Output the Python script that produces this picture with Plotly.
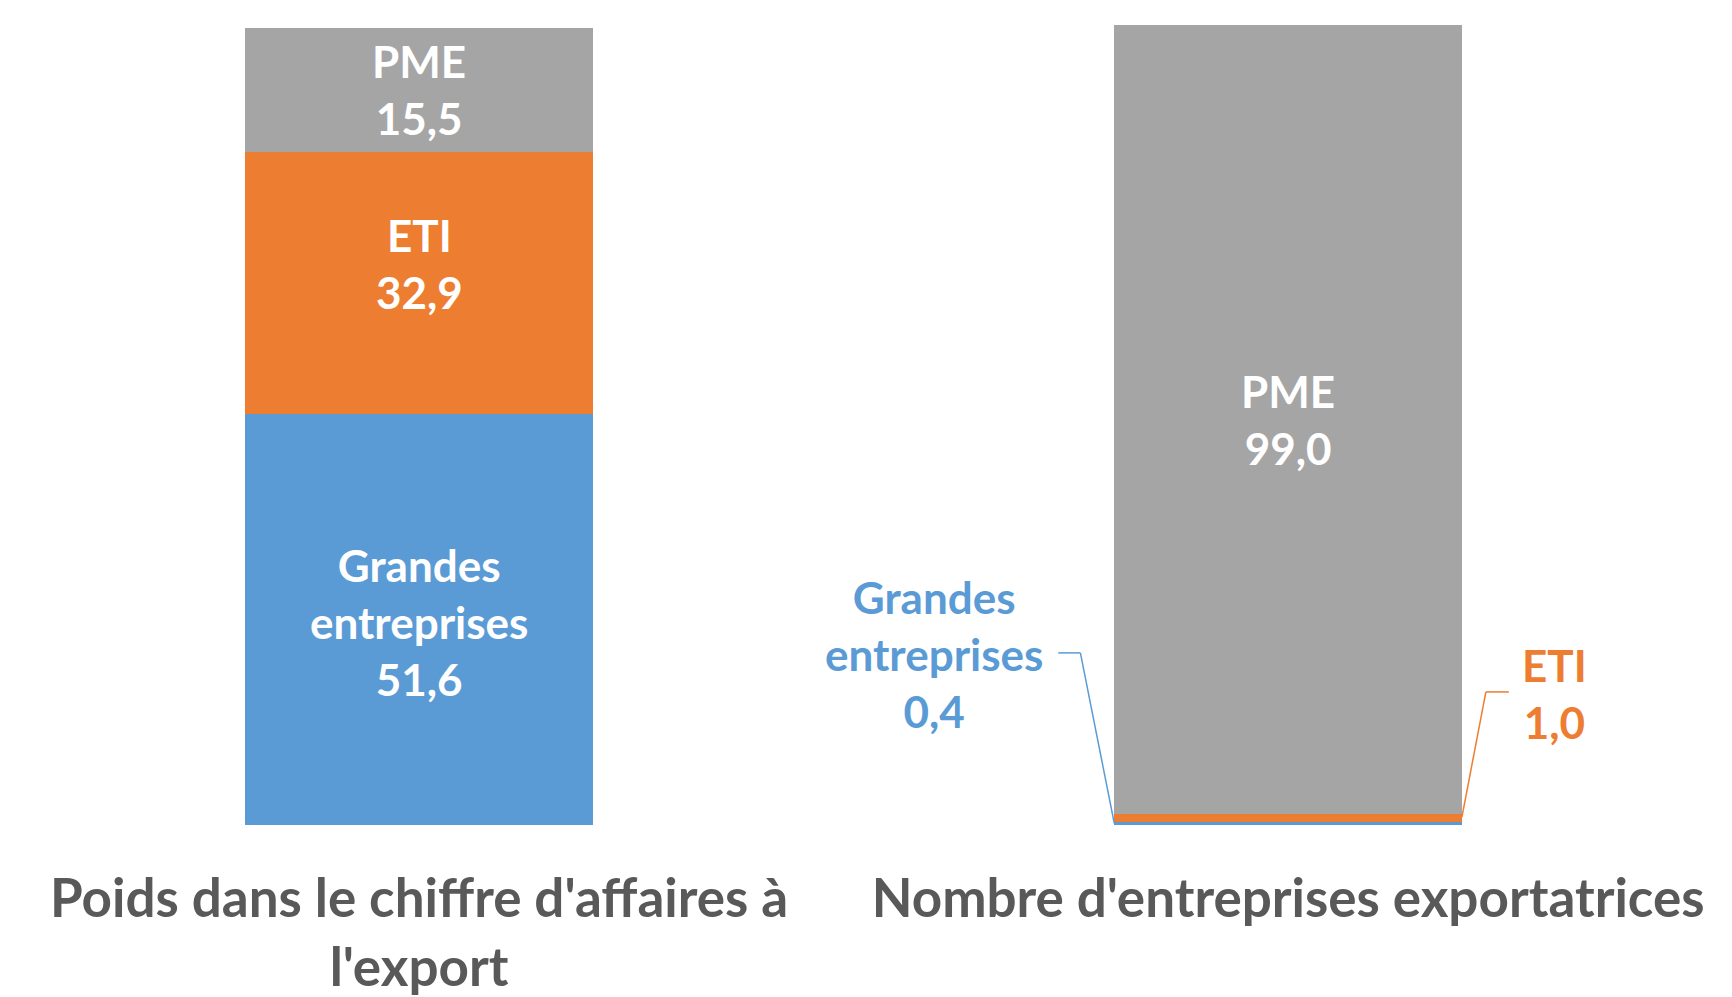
import plotly.graph_objects as go

# ---- data ----
categories = ["Poids dans le chiffre d'affaires à<br>l'export", "Nombre d'entreprises exportatrices"]
series_names = ["Grandes<br>entreprises", "ETI", "PME"]
ge_values = [51.6, 0.4]
eti_values = [32.9, 1.0]
pme_values = [15.5, 99.0]

colors = {"ge": "#5B9BD5", "eti": "#ED7D31", "pme": "#A5A5A5"}
xpos = [0, 1]
bar_w = 0.4


def fmt(v):
    return f"{v:.1f}".replace(".", ",")


fig = go.Figure()
for name, vals, key in [(series_names[0], ge_values, "ge"),
                        (series_names[1], eti_values, "eti"),
                        (series_names[2], pme_values, "pme")]:
    fig.add_trace(go.Bar(x=xpos, y=vals, width=bar_w, name=name.replace("<br>", " "),
                         marker=dict(color=colors[key], line=dict(width=0)),
                         hoverinfo="skip", showlegend=False))

lab_font = dict(family="Lato", size=44, weight="bold")
annots = []
# left bar: inside labels
bases = [0, ge_values[0], ge_values[0] + eti_values[0]]
vals_left = [ge_values[0], eti_values[0], pme_values[0]]
yshifts = [-3, 19, 0]
for nm, b, v, ys in zip(series_names, bases, vals_left, yshifts):
    annots.append(dict(x=xpos[0], y=b + v / 2, xref="x", yref="y",
                       text=f"{nm}<br>{fmt(v)}", showarrow=False, yshift=ys,
                       font=dict(lab_font, color="white"), xanchor="center", yanchor="middle"))
# right bar: PME inside
b_pme = ge_values[1] + eti_values[1]
annots.append(dict(x=xpos[1], y=b_pme + pme_values[1] / 2, xref="x", yref="y",
                   text=f"{series_names[2]}<br>{fmt(pme_values[1])}", showarrow=False,
                   font=dict(lab_font, color="white"), xanchor="center", yanchor="middle"))

# right bar: outside labels with leader lines
ge_lab = (xpos[1] - 0.408, 21.4)
eti_lab = (xpos[1] + 0.307, 16.5)
annots.append(dict(x=ge_lab[0], y=ge_lab[1], xref="x", yref="y",
                   text=f"{series_names[0]}<br>{fmt(ge_values[1])}", showarrow=False,
                   font=dict(lab_font, color=colors["ge"]), xanchor="center", yanchor="middle"))
annots.append(dict(x=eti_lab[0], y=eti_lab[1], xref="x", yref="y",
                   text=f"{series_names[1]}<br>{fmt(eti_values[1])}", showarrow=False,
                   font=dict(lab_font, color=colors["eti"]), xanchor="center", yanchor="middle"))

left_edge = xpos[1] - bar_w / 2
right_edge = xpos[1] + bar_w / 2
shapes = [
    dict(type="line", xref="x", yref="y", x0=left_edge - 0.0645, y0=21.6, x1=left_edge - 0.039, y1=21.6,
         line=dict(color=colors["ge"], width=1.5)),
    dict(type="line", xref="x", yref="y", x0=left_edge - 0.039, y0=21.6, x1=left_edge, y1=ge_values[1] / 2,
         line=dict(color=colors["ge"], width=1.5)),
    dict(type="line", xref="x", yref="y", x0=right_edge, y0=ge_values[1] + eti_values[1] * 0.6,
         x1=right_edge + 0.0276, y1=16.7, line=dict(color=colors["eti"], width=1.5)),
    dict(type="line", xref="x", yref="y", x0=right_edge + 0.0276, y0=16.7, x1=right_edge + 0.054, y1=16.7,
         line=dict(color=colors["eti"], width=1.5)),
]

fig.update_layout(
    barmode="stack",
    width=1732, height=997,
    margin=dict(l=0, r=0, t=17, b=180),
    paper_bgcolor="white", plot_bgcolor="white",
    annotations=annots, shapes=shapes,
    xaxis=dict(range=[-0.473, 1.520], tickvals=xpos, ticktext=categories,
               showgrid=False, zeroline=False, showline=False, ticks="",
               ticklabelstandoff=38,
               tickfont=dict(family="Lato", size=53, weight="bold", color="#595959")),
    yaxis=dict(range=[0, 100.4], visible=False, showgrid=False, zeroline=False),
)

fig.write_html("out.html")
